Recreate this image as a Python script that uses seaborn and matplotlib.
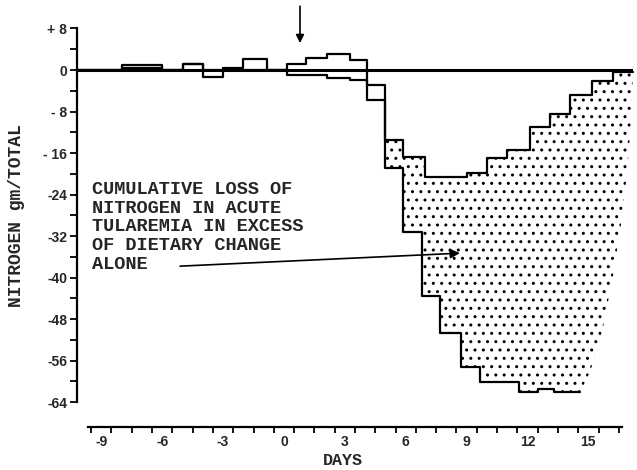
import numpy as np
import matplotlib
matplotlib.use("Agg")
import matplotlib.pyplot as plt
import seaborn as sns
import pandas as pd

# cumulative nitrogen expected from the diet alone: step start day and level (gm)
diet_days = [-10.2, -8, -6, -5, -4, -3, -2, -0.85, 0.15, 1.1, 2.1, 3.25, 4.1, 5,
             5.85, 6.95, 9, 10, 11, 12.1, 13.1, 14.1, 15.2, 16.2, 17.2]
diet_n = [0, 1, 0, 1.2, -1.3, 0.3, 2.2, 0, 1.2, 2.3, 3, 2, -2.9, -13.5,
          -16.7, -20.6, -19.8, -16.9, -15.4, -11, -8.5, -4.8, -2.1, -0.3, -0.3]

# observed cumulative nitrogen balance
obs_days = [-10.2, -8, -6, -5, -4, 0.15, 2.1, 3.25, 4.1, 5, 5.85, 6.8, 7.7,
            8.7, 9.65, 11.6, 12.5, 13.3, 14.6]
obs_n = [0, 0.4, 0, 1.2, 0, -0.9, -1.5, -2, -5.8, -18.8, -31.3, -43.6, -50.6,
         -57.3, -60.2, -62, -61.5, -62, -62]

# ragged right edge of the stippled area (top to bottom)
edge_days = [17.2, 17.1, 16.9, 16.6, 16.2, 15.7, 15.1, 14.6]
edge_n = [-0.3, -10, -20, -30, -40, -50, -58, -62]

# day where the shaded excess loss begins
shade_start = 5

y_ticks = [-64, -56, -48, -40, -32, -24, -16, -8, 0, 8]
y_labels = ['-64', '-56', '-48', '-40', '-32', '-24', '- 16', '- 8', '0', '+ 8']
x_ticks = [-9, -6, -3, 0, 3, 6, 9, 12, 15]
x_labels = ['-9', '-6', '-3', '0', '3', '6', '9', '12', '15']

note = ("CUMULATIVE LOSS OF\nNITROGEN IN ACUTE\nTULAREMIA IN EXCESS\n"
        "OF DIETARY CHANGE\nALONE")

sns.set_theme(style="ticks")
plt.rcParams['font.family'] = ['Liberation Sans', 'DejaVu Sans']
plt.rcParams['axes.unicode_minus'] = False
plt.rcParams['hatch.linewidth'] = 1.0


def steps(days, vals, start):
    # outline of a steps-post curve from day `start` on
    xs, ys = [], []
    for i in range(len(days) - 1):
        if days[i] < start:
            continue
        xs += [days[i], days[i + 1]]
        ys += [vals[i], vals[i]]
    return xs, ys


fig = plt.figure(figsize=(6.37, 4.70), dpi=100)
ax = fig.add_axes([77 / 637, 43 / 470, 556 / 637, 398.5 / 470])

# stippled area between the two curves
tx, ty = steps(diet_days, diet_n, shade_start)
bx, by = steps(obs_days, obs_n, shade_start)
px = tx + edge_days + bx[::-1]
py = ty + edge_n + by[::-1]
ax.fill(px, py, facecolor='white', edgecolor='black', hatch='..',
        linewidth=0, clip_on=False, zorder=1)

diet = pd.DataFrame({'day': diet_days, 'n': diet_n})
obs = pd.DataFrame({'day': obs_days, 'n': obs_n})
sns.lineplot(data=diet, x='day', y='n', drawstyle='steps-post', estimator=None,
             color='black', lw=1.6, ax=ax, clip_on=False, zorder=3)
sns.lineplot(data=obs, x='day', y='n', drawstyle='steps-post', estimator=None,
             color='black', lw=1.6, ax=ax, clip_on=False, zorder=3)
ax.axhline(0, color='black', lw=2.2, zorder=4)

ax.set_xlim(-10.2, 17.2)
ax.set_ylim(-68.8, 8)

for s in ['top', 'right']:
    ax.spines[s].set_visible(False)
ax.spines['left'].set_bounds(-64, 8)
ax.spines['bottom'].set_bounds(-9.65, 16.65)
for s in ['left', 'bottom']:
    ax.spines[s].set_linewidth(1.6)
    ax.spines[s].set_color('black')

ax.set_xticks(x_ticks)
ax.set_xticklabels(x_labels)
ax.set_xticks(np.arange(-9.5, 17, 1), minor=True)
ax.set_yticks(y_ticks)
ax.set_yticklabels(y_labels)
ax.set_yticks(np.arange(-60, 8, 8), minor=True)
ax.tick_params(axis='x', which='major', length=0, pad=6, labelsize=10)
ax.tick_params(axis='x', which='minor', length=4, width=1.3, direction='out', color='black')
ax.tick_params(axis='y', which='both', length=5, width=1.3, direction='out',
               color='black', pad=2, labelsize=10)
for lab in ax.get_xticklabels() + ax.get_yticklabels():
    lab.set_fontweight('bold')

mono = dict(family=['Liberation Mono', 'DejaVu Sans Mono'], fontweight='bold')
ax.set_xlabel('DAYS', fontsize=12, **mono)
ax.xaxis.set_label_coords(0.478, -0.065)
ax.set_ylabel('NITROGEN gm/TOTAL', fontsize=13, **mono)
ax.yaxis.set_label_coords(-0.094, 0.53)

ax.text(-9.46, -21.4, note, ha='left', va='top', fontsize=13.4,
        linespacing=1.13, **mono)
ax.annotate('', xy=(8.67, -35.3), xytext=(-5.12, -37.8),
            arrowprops=dict(arrowstyle='-|>', color='black', lw=1.2,
                            mutation_scale=14, shrinkA=0, shrinkB=0))
ax.annotate('', xy=(0.79, 5.2), xytext=(0.79, 12.3), annotation_clip=False,
            arrowprops=dict(arrowstyle='-|>', color='black', lw=1.2,
                            mutation_scale=12, shrinkA=0, shrinkB=0))

fig.savefig('out.png', dpi=100)
